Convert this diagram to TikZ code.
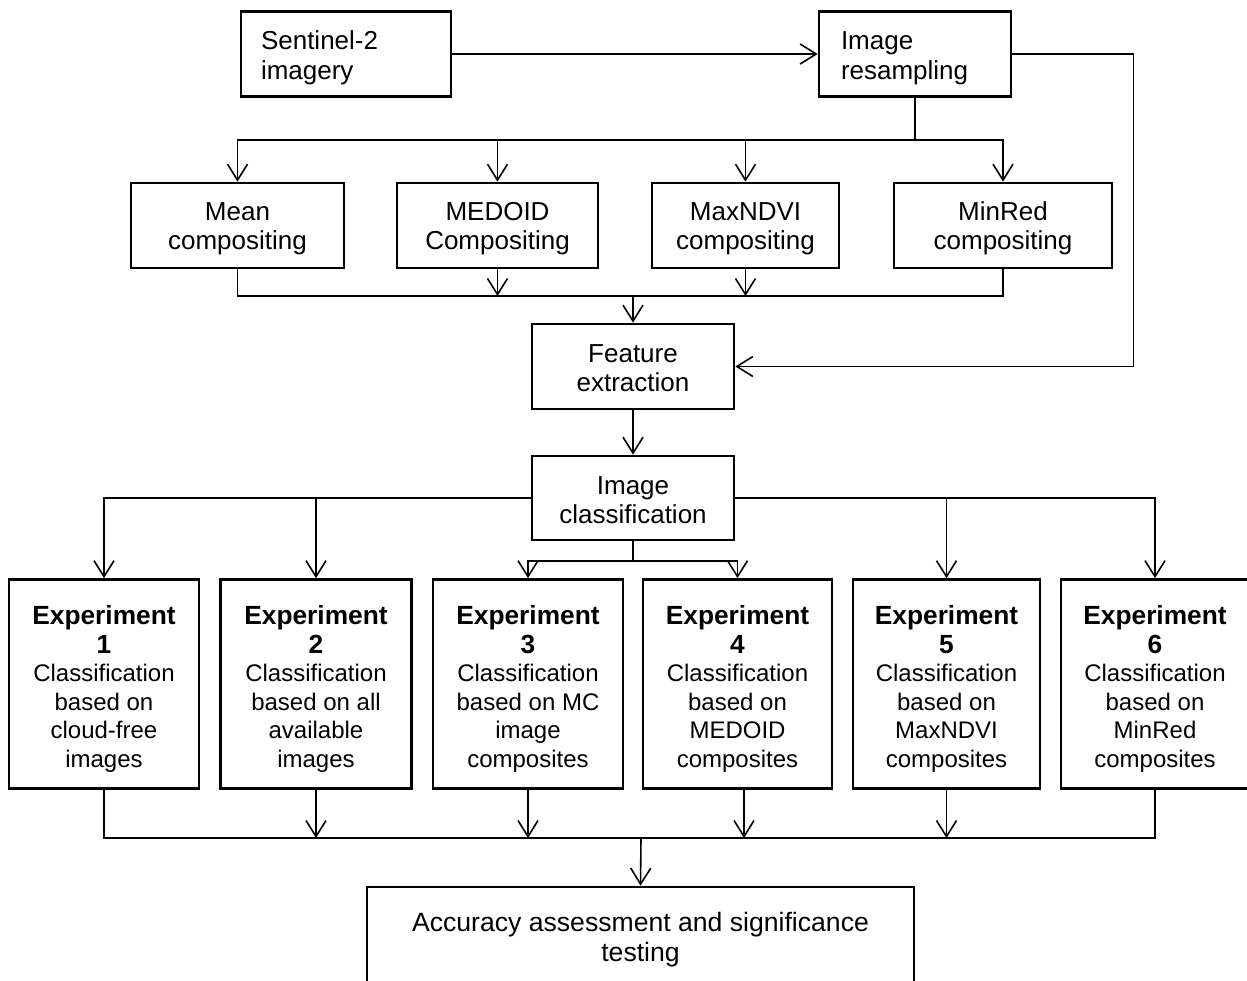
\documentclass[tikz,border=0pt]{standalone}
\usepackage{fontspec}
\setmainfont{Liberation Sans}
\usetikzlibrary{arrows.meta}
\newcommand\bh[1]{{\fontsize{26.3}{28.6}\selectfont\bfseries #1}}
\newcommand\dn[1]{\rule{0pt}{#1pt}}
\tikzset{
  box/.style={draw, line width=2.7pt, rectangle, inner sep=0pt, align=center,
    font=\fontsize{26}{28.8}\selectfont},
  expbox/.style={box, minimum height=209pt, font=\fontsize{24}{28.6}\selectfont},
  conn/.style={line width=1.6pt},
  arr/.style={conn, -{Straight Barb[length=16pt,width=20pt]}},
}
\begin{document}
\begin{tikzpicture}[x=1pt,y=-1pt]
\useasboundingbox[fill=white] (0,0) rectangle (1247,980);
% top row
\node[box, minimum width=210pt, minimum height=85pt, text width=170pt, align=left, font=\fontsize{26}{30}\selectfont] (sen) at (346,54) {\dn{27}Sentinel-2\\imagery};
\node[box, minimum width=192pt, minimum height=85pt, text width=148pt, align=left, font=\fontsize{26}{30}\selectfont] (res) at (915,54) {\dn{27}Image\\resampling};
% compositing
\node[box, minimum width=213pt, minimum height=85pt] (mean) at (237.5,225.5) {\dn{25}Mean\\compositing};
\node[box, minimum width=201pt, minimum height=85pt] (medoid) at (497.5,225.5) {\dn{25}MEDOID\\Compositing};
\node[box, minimum width=187pt, minimum height=85pt] (maxndvi) at (745.5,225.5) {\dn{25}MaxNDVI\\compositing};
\node[box, minimum width=218pt, minimum height=85pt] (minred) at (1003,225.5) {\dn{25}MinRed\\compositing};
% feature / classification
\node[box, minimum width=202pt, minimum height=85pt] (feat) at (633,366.5) {\dn{22}Feature\\extraction};
\node[box, minimum width=202pt, minimum height=84pt] (cls) at (633,498) {\dn{22}Image\\classification};
% experiments
\node[expbox, minimum width=190pt] (e1) at (104,684) {\dn{29}\bh{Experiment}\\\bh{1}\\Classification\\based on\\cloud-free\\images};
\node[expbox, minimum width=191pt] (e2) at (316,684) {\dn{29}\bh{Experiment}\\\bh{2}\\Classification\\based on all\\available\\images};
\node[expbox, minimum width=190pt] (e3) at (528,684) {\dn{29}\bh{Experiment}\\\bh{3}\\Classification\\based on MC\\image\\composites};
\node[expbox, minimum width=189pt] (e4) at (737.5,684) {\dn{29}\bh{Experiment}\\\bh{4}\\Classification\\based on\\MEDOID\\composites};
\node[expbox, minimum width=187pt] (e5) at (946.5,684) {\dn{29}\bh{Experiment}\\\bh{5}\\Classification\\based on\\MaxNDVI\\composites};
\node[expbox, minimum width=188pt] (e6) at (1155,684) {\dn{29}\bh{Experiment}\\\bh{6}\\Classification\\based on\\MinRed\\composites};
% accuracy
\node[box, minimum width=547pt, minimum height=105pt, font=\fontsize{26.6}{29.5}\selectfont] (acc) at (640.5,939.5) {Accuracy assessment and significance\\testing};
% coordinates
\coordinate (top) at (915,140);
\coordinate (mid) at (633,296);
\coordinate (bot) at (633,561);
\coordinate (mrg) at (641,838);
% connectors
\draw[arr] (sen.east) -- (res.west);
\draw[arr] (res.east) -- ++(121,0) |- (feat.east);
\draw[conn] (res.south) -- (top);
\draw[arr] (top) -| (mean.north);
\draw[arr] (top) -| (medoid.north);
\draw[arr] (top) -| (maxndvi.north);
\draw[arr] (top) -| (minred.north);
\draw[conn] (mean.south) -- (mean.south |- mid) -- (minred.south |- mid) -- (minred.south);
\draw[arr] (medoid.south) -- (medoid.south |- mid);
\draw[arr] (maxndvi.south) -- (maxndvi.south |- mid);
\draw[arr] (mid) -- (feat.north);
\draw[arr] (feat.south) -- (cls.north);
\draw[arr] (cls.west) -| (e1.north);
\draw[arr] (cls.west) -| (e2.north);
\draw[arr] (cls.east) -| (e5.north);
\draw[arr] (cls.east) -| (e6.north);
\draw[conn] (cls.south) -- (bot);
\draw[arr] (bot) -| (e3.north);
\draw[arr] (bot) -| (e4.north);
\draw[conn] (e1.south) -- (e1.south |- mrg) -- (e6.south |- mrg) -- (e6.south);
\draw[arr] (e2.south) -- (e2.south |- mrg);
\draw[arr] (e3.south) -- (e3.south |- mrg);
\draw[arr] ([xshift=6.5pt]e4.south) -- ([xshift=6.5pt]e4.south |- mrg);
\draw[arr] (e5.south) -- (e5.south |- mrg);
\draw[arr] (mrg) -- (acc.north);
\end{tikzpicture}
\end{document}
